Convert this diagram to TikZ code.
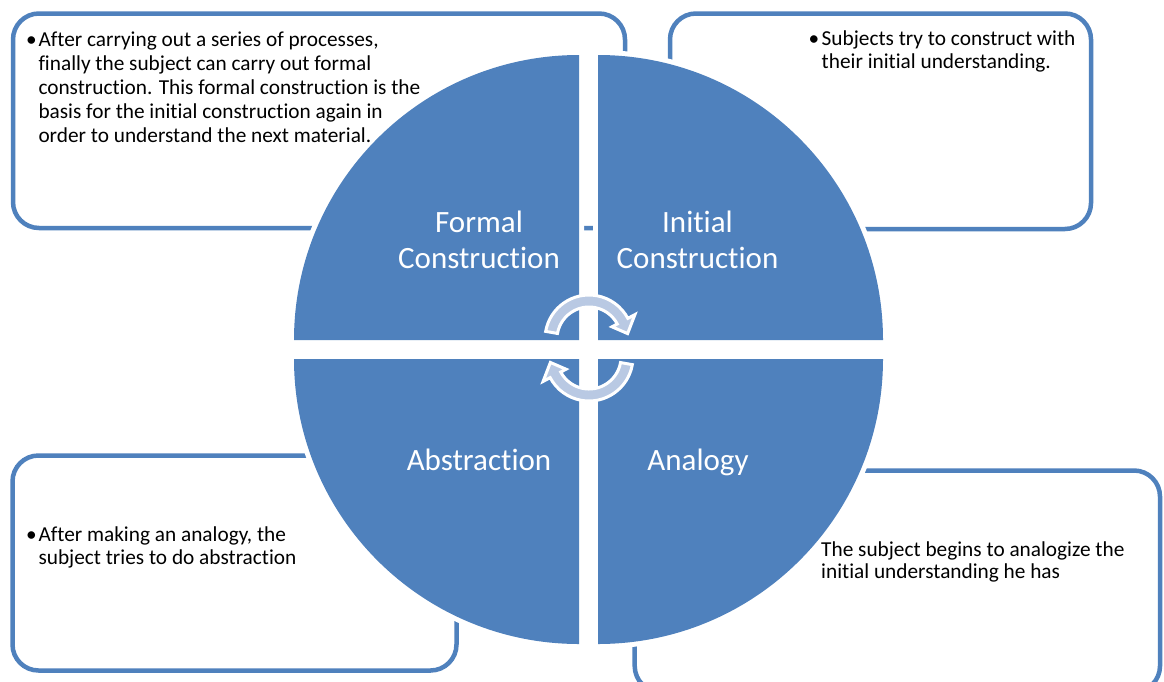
\documentclass[tikz,border=0pt]{standalone}
\usepackage{fontspec}
\setmainfont{Carlito}[Ligatures={NoCommon,NoContextual}]
\usetikzlibrary{calc}
\definecolor{accent}{RGB}{79,129,189}
\definecolor{arrowfill}{RGB}{185,201,227}
\begin{document}
\begin{tikzpicture}[yscale=-1, x=1pt, y=1pt,
  infobox/.style={draw=accent, line width=4.5pt, rounded corners=26pt, fill=white},
  quadrant/.style={fill=accent, preaction={draw=white, line width=10pt, line join=round}},
  cyclearrow/.style={fill=arrowfill, draw=white, line width=3pt, line join=miter},
  boxtext/.style={anchor=base west, inner sep=0pt, font=\fontsize{21.3}{24}\selectfont},
  bulletmark/.style={anchor=base, inner sep=0pt, font=\fontsize{21.3}{24}\selectfont},
  quadlabel/.style={anchor=base, inner sep=0pt, text=white, font=\fontsize{31}{36}\selectfont}]
\useasboundingbox (0,0) rectangle (1164,681);
\fill[white] (0,0) rectangle (1164,681);

% description boxes
\draw[infobox] (13,13.5) rectangle (625,228);
\draw[infobox] (670,13.5) rectangle (1091,229);
\draw[infobox] (12.5,455.5) rectangle (456.5,670.5);
\draw[infobox] (634.7,470.5) rectangle (1160,692);

% quadrants
\path[quadrant] (579,340) -- ++(-285,0) arc[start angle=180, end angle=270, radius=285] -- cycle;
\path[quadrant] (598,340) -- ++(0,-285) arc[start angle=270, end angle=360, radius=285] -- cycle;
\path[quadrant] (598,359) -- ++(285,0) arc[start angle=0, end angle=90, radius=285] -- cycle;
\path[quadrant] (579,359) -- ++(0,285) arc[start angle=90, end angle=180, radius=285] -- cycle;

% cycle arrows
\coordinate (c1) at (589,339);
\coordinate (c2) at (589,357);
\path[cyclearrow] ($(c1)+(-170:44)$) arc[start angle=-170, end angle=-28, radius=44]
  -- ($(c1)+(-28:52)$) -- ($(c1)+(-8:39)$) -- ($(c1)+(-28:26)$)
  -- ($(c1)+(-28:32)$) arc[start angle=-28, end angle=-170, radius=32] -- cycle;
\path[cyclearrow] ($(c2)+(10:44)$) arc[start angle=10, end angle=152, radius=44]
  -- ($(c2)+(152:52)$) -- ($(c2)+(172:39)$) -- ($(c2)+(152:26)$)
  -- ($(c2)+(152:32)$) arc[start angle=152, end angle=10, radius=32] -- cycle;

% quadrant labels
\node[quadlabel] (fc1) at (479,232) {Formal};
\node[quadlabel] (fc2) at (479,268) {Construction};
\node[quadlabel] (ic1) at (697.5,232) {Initial};
\node[quadlabel] (ic2) at (697.5,268) {Construction};
\node[quadlabel] (ab) at (479,470) {Abstraction};
\node[quadlabel] (an) at (698,470) {Analogy};

% top-left text
\node[bulletmark] (b1) at (31.5,46) {•};
\node[boxtext] (t1a) at (38.3,46) {After carrying out a series of processes,};
\node[boxtext] (t1b) at (38.3,70) {finally the subject can carry out formal};
\node[boxtext] (t1c) at (38.3,94) {construction. This formal construction is the};
\node[boxtext] (t1d) at (38.3,118) {basis for the initial construction again in};
\node[boxtext] (t1e) at (38.3,142) {order to understand the next material.};

% top-right text
\node[bulletmark] (b2) at (814,45) {•};
\node[boxtext] (t2a) at (821.5,45) {Subjects try to construct with};
\node[boxtext] (t2b) at (821.5,68) {their initial understanding.};

% bottom-left text
\node[bulletmark] (b3) at (31.5,541) {•};
\node[boxtext] (t3a) at (38.3,541) {After making an analogy, the};
\node[boxtext] (t3b) at (38.3,564) {subject tries to do abstraction};

% bottom-right text
\node[boxtext] (t4a) at (821,556) {The subject begins to analogize the};
\node[boxtext] (t4b) at (821,578) {initial understanding he has};
\end{tikzpicture}
\end{document}
